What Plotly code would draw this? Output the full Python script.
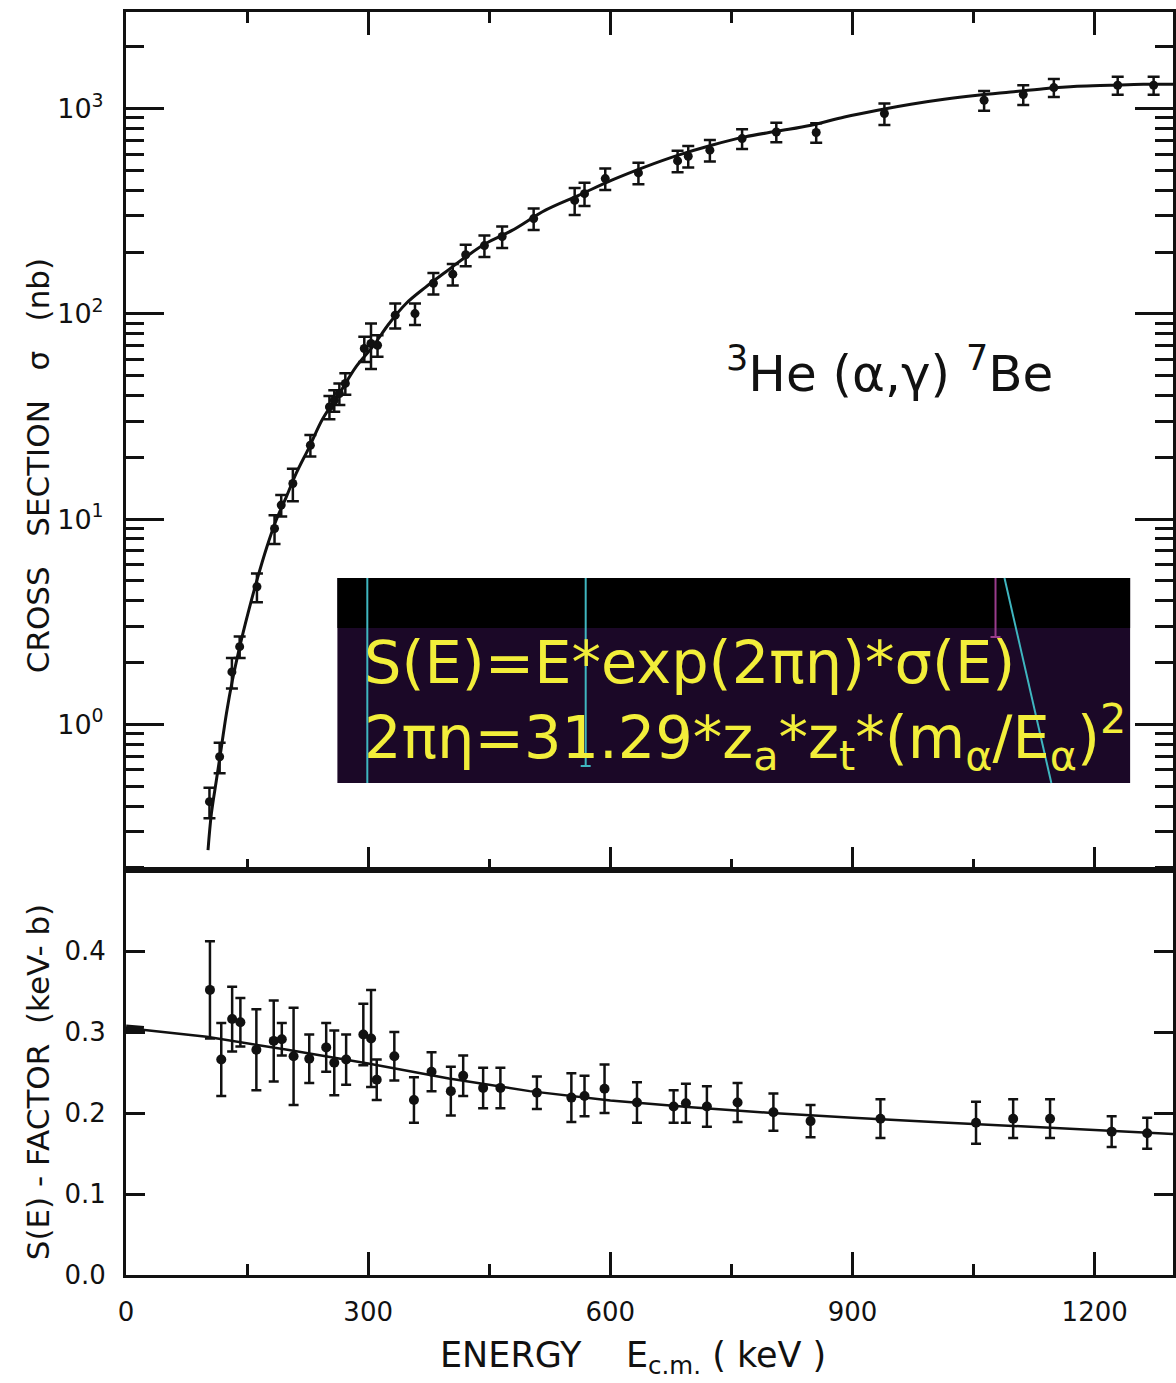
import plotly.graph_objects as go

# ---------------- data ----------------
# upper panel: cross section sigma (nb) vs E_cm (keV)
E_sigma = [103.4, 116, 131.2, 140.8, 162.2, 184, 192.3, 206.7, 228.4, 252, 258, 264.3, 271.7,
           295.2, 303.5, 311.6, 333.5, 358, 380.8, 404.8, 420.8, 444, 466, 505, 555.8, 568,
           593.7, 634.8, 683.3, 696.5, 723.3, 763.2, 805.6, 855, 939.5, 1063, 1111.5, 1149.4,
           1228.5, 1273]
sigma = [0.42, 0.695, 1.80, 2.39, 4.68, 9.0, 11.7, 14.9, 22.9, 35.2, 37.9, 40.9, 45.8,
         67.8, 71.7, 70.3, 98.5, 100.3, 141, 156, 194, 215, 238, 291, 357, 385,
         456, 486, 556, 586, 627, 714, 769, 765, 946, 1098, 1170, 1265,
         1299, 1299]
sigma_err_pct = [17, 17, 17, 12, 16, 16, 12, 18, 12, 13, 12, 12, 12,
                 14, 25, 12, 14, 12, 12, 12, 12, 12, 12, 12, 15, 13,
                 12, 12, 12, 12, 12, 11, 11, 11, 12, 11, 11, 10,
                 10, 10]

# fitted curve, upper panel
fit_E_sigma = [101.6, 105.8, 112, 118.2, 124.4, 131.8, 140.8, 151.1, 162.2, 174.5, 186.1, 198.5,
               210.8, 227.2, 243.7, 264.3, 284.9, 305.4, 326, 346.7, 371.3, 396, 420.7, 445.5,
               478.3, 519.6, 560.7, 601.8, 643.2, 684.2, 725.4, 766.6, 807.6, 848.8, 890, 931.1,
               972.3, 1013.5, 1054.7, 1095.8, 1137, 1178.2, 1219.3, 1260.5, 1297]
fit_sigma = [0.244, 0.368, 0.535, 0.776, 1.13, 1.64, 2.38, 3.47, 5.04, 7.31, 9.89, 12.8,
             16.7, 22.5, 30.8, 40.9, 55.1, 69.0, 89.7, 112, 135, 160, 189, 220,
             255, 320, 378, 448, 520, 593, 663, 728, 777, 830, 910, 982,
             1050, 1110, 1161, 1205, 1250, 1284, 1299, 1313, 1313]

# lower panel: S-factor (keV-b)
E_S = [104, 118, 131.5, 141.7, 161.5, 183, 193, 207.6, 227, 248, 258, 272.7, 294, 303.6,
       310.6, 332.4, 356.7, 378.5, 402.4, 417.7, 442.4, 463.8, 509, 551.7, 568, 592.8, 633,
       678.4, 693.6, 719.6, 757.6, 802, 848, 934.6, 1053, 1099, 1144.7, 1221, 1265]
S = [0.352, 0.266, 0.316, 0.312, 0.278, 0.289, 0.291, 0.270, 0.267, 0.281, 0.262, 0.266, 0.297, 0.292,
     0.241, 0.270, 0.216, 0.251, 0.227, 0.246, 0.231, 0.231, 0.225, 0.219, 0.221, 0.230, 0.213,
     0.208, 0.212, 0.208, 0.213, 0.201, 0.190, 0.193, 0.188, 0.193, 0.193, 0.177, 0.175]
S_err = [0.060, 0.045, 0.040, 0.030, 0.050, 0.050, 0.020, 0.060, 0.030, 0.030, 0.040, 0.031, 0.038, 0.060,
         0.025, 0.030, 0.028, 0.024, 0.030, 0.025, 0.025, 0.025, 0.020, 0.030, 0.025, 0.030, 0.025,
         0.020, 0.024, 0.025, 0.024, 0.023, 0.020, 0.024, 0.026, 0.024, 0.024, 0.019, 0.019]

fit_E_S = [0, 100, 200, 300, 400, 500, 600, 700, 800, 900, 1000, 1100, 1200, 1297]
fit_S = [0.305, 0.294, 0.278, 0.261, 0.2425, 0.227, 0.2155, 0.207, 0.2, 0.194, 0.189, 0.184, 0.179, 0.174]

S0_E = [0, 22]
S0_S = [0.305, 0.303]

x_ticks = [0, 300, 600, 900, 1200]
x_minor = [150, 450, 750, 1050]
S_ticks = [0.0, 0.1, 0.2, 0.3, 0.4]
S_ticktext = ["0.0", "0.1", "0.2", "0.3", "0.4"]
sig_ticks = [1, 10, 100, 1000]
sig_ticktext = ["10<sup>0</sup>", "10<sup>1</sup>", "10<sup>2</sup>", "10<sup>3</sup>"]
sig_minor = [m * d for d in [0.1, 1, 10, 100] for m in range(2, 10)] + [2000, 3000]

# ---------------- figure ----------------
FONT = "DejaVu Sans"
BLACK = "#111111"
fig = go.Figure()

sig_err = [s * p / 100 for s, p in zip(sigma, sigma_err_pct)]

fig.add_trace(go.Scatter(x=fit_E_sigma, y=fit_sigma, mode="lines", line=dict(color=BLACK, width=3, shape="spline"),
                         xaxis="x2", yaxis="y2", showlegend=False, hoverinfo="skip"))
fig.add_trace(go.Scatter(x=E_sigma, y=sigma, mode="markers",
                         marker=dict(color=BLACK, size=9),
                         error_y=dict(type="data", array=sig_err, color=BLACK, thickness=2.5, width=6),
                         xaxis="x2", yaxis="y2", showlegend=False))

fig.add_trace(go.Scatter(x=fit_E_S, y=fit_S, mode="lines", line=dict(color=BLACK, width=2.5),
                         xaxis="x", yaxis="y", showlegend=False, hoverinfo="skip"))
fig.add_trace(go.Scatter(x=S0_E, y=S0_S, mode="lines", line=dict(color=BLACK, width=7),
                         xaxis="x", yaxis="y", showlegend=False, hoverinfo="skip"))
fig.add_trace(go.Scatter(x=E_S, y=S, mode="markers",
                         marker=dict(color=BLACK, size=10),
                         error_y=dict(type="data", array=S_err, color=BLACK, thickness=2.5, width=5),
                         xaxis="x", yaxis="y", showlegend=False))

low_top = (1275 - 870) / 1263

axis_common = dict(showline=True, linecolor=BLACK, linewidth=3, ticks="inside", tickcolor=BLACK,
                   showgrid=False, zeroline=False)

fig.update_layout(
    width=1176, height=1383,
    margin=dict(l=126, r=0, t=12, b=108),
    paper_bgcolor="white", plot_bgcolor="white",
    font=dict(family=FONT, color=BLACK),
    xaxis=dict(domain=[0, 1], range=[0, 1297], anchor="y", tickmode="array", tickvals=x_ticks,
               ticklen=23, tickwidth=2.5, mirror=True,
               minor=dict(tickmode="array", tickvals=x_minor, ticklen=11, tickwidth=2.5, ticks="inside",
                          tickcolor=BLACK),
               tickfont=dict(size=26, family=FONT), ticklabelstandoff=12, **axis_common),
    xaxis2=dict(domain=[0, 1], range=[0, 1297], anchor="y2", matches="x", tickmode="array", tickvals=x_ticks,
                ticklen=23, tickwidth=2.5, mirror="ticks", showticklabels=False,
                minor=dict(tickmode="array", tickvals=x_minor, ticklen=11, tickwidth=2.5, ticks="inside",
                           tickcolor=BLACK),
                **axis_common),
    yaxis=dict(domain=[0, low_top], range=[0, 0.5], anchor="x", tickmode="array", tickvals=S_ticks,
               ticktext=S_ticktext, ticklen=19, tickwidth=2.5, mirror="ticks",
               tickfont=dict(size=26, family=FONT), ticklabelstandoff=12, **axis_common),
    yaxis2=dict(domain=[low_top, 1], type="log", range=[-0.7097, 3.4705], anchor="x2", tickmode="array",
                tickvals=sig_ticks, ticktext=sig_ticktext, ticklen=38, tickwidth=2.5, mirror="ticks",
                minor=dict(tickmode="array", tickvals=sig_minor, ticklen=18, tickwidth=2.5, ticks="inside",
                           tickcolor=BLACK),
                tickfont=dict(size=27, family=FONT), ticklabelstandoff=14, **axis_common),
)


def px_x(px):
    return (px - 126) / 1050


def px_y(py):
    return (1275 - py) / 1263


shapes = [
    dict(type="rect", xref="paper", yref="paper", x0=px_x(338), x1=px_x(1133), y0=px_y(783), y1=px_y(578),
         fillcolor="#1b0827", line=dict(width=0), layer="above"),
    dict(type="rect", xref="paper", yref="paper", x0=px_x(338), x1=px_x(1133), y0=px_y(628), y1=px_y(578),
         fillcolor="#000000", line=dict(width=0), layer="above"),
    dict(type="line", xref="paper", yref="paper", x0=px_x(368), x1=px_x(368), y0=px_y(783), y1=px_y(578),
         line=dict(color="#3fb6c0", width=2), layer="above"),
    dict(type="line", xref="paper", yref="paper", x0=px_x(587), x1=px_x(587), y0=px_y(766), y1=px_y(578),
         line=dict(color="#3fb6c0", width=2), layer="above"),
    dict(type="line", xref="paper", yref="paper", x0=px_x(582), x1=px_x(592), y0=px_y(766), y1=px_y(766),
         line=dict(color="#3fb6c0", width=2), layer="above"),
    dict(type="line", xref="paper", yref="paper", x0=px_x(998), x1=px_x(998), y0=px_y(637), y1=px_y(578),
         line=dict(color="#9a3c8c", width=2), layer="above"),
    dict(type="line", xref="paper", yref="paper", x0=px_x(993), x1=px_x(1003), y0=px_y(637), y1=px_y(637),
         line=dict(color="#9a3c8c", width=2), layer="above"),
    dict(type="line", xref="paper", yref="paper", x0=px_x(1007), x1=px_x(1054), y0=px_y(578), y1=px_y(783),
         line=dict(color="#3fb6c0", width=2), layer="above"),
]
fig.update_layout(shapes=shapes)

YEL = "#f2ee3a"
annotations = [
    dict(text="S(E)=E*exp(2πη)*σ(E)", xref="paper", yref="paper", x=px_x(363), y=px_y(662),
         xanchor="left", yanchor="middle", showarrow=False, font=dict(size=59, color=YEL, family=FONT)),
    dict(text="2πη=31.29*z<sub>a</sub>*z<sub>t</sub>*(m<sub>α</sub>/E<sub>α</sub>)<sup>2</sup>",
         xref="paper", yref="paper", x=px_x(363), y=px_y(737),
         xanchor="left", yanchor="middle", showarrow=False, font=dict(size=59, color=YEL, family=FONT)),
    dict(text="<sup>3</sup>He (α,γ) <sup>7</sup>Be", xref="paper", yref="paper", x=px_x(892), y=px_y(370),
         xanchor="center", yanchor="middle", showarrow=False, font=dict(size=50, color=BLACK, family=FONT)),
    dict(text="CROSS   SECTION   σ   (nb)", xref="paper", yref="paper", x=px_x(38), y=px_y(466),
         xanchor="center", yanchor="middle", textangle=-90, showarrow=False,
         font=dict(size=31, color=BLACK, family=FONT)),
    dict(text="S(E) - FACTOR  (keV- b)", xref="paper", yref="paper", x=px_x(38), y=px_y(1082),
         xanchor="center", yanchor="middle", textangle=-90, showarrow=False,
         font=dict(size=31, color=BLACK, family=FONT)),
    dict(text="ENERGY    E<sub>c.m.</sub> ( keV )", xref="paper", yref="paper", x=px_x(634), y=px_y(1357),
         xanchor="center", yanchor="middle", showarrow=False,
         font=dict(size=35, color=BLACK, family=FONT)),
]
fig.update_layout(annotations=annotations)

fig.write_html("out.html")
